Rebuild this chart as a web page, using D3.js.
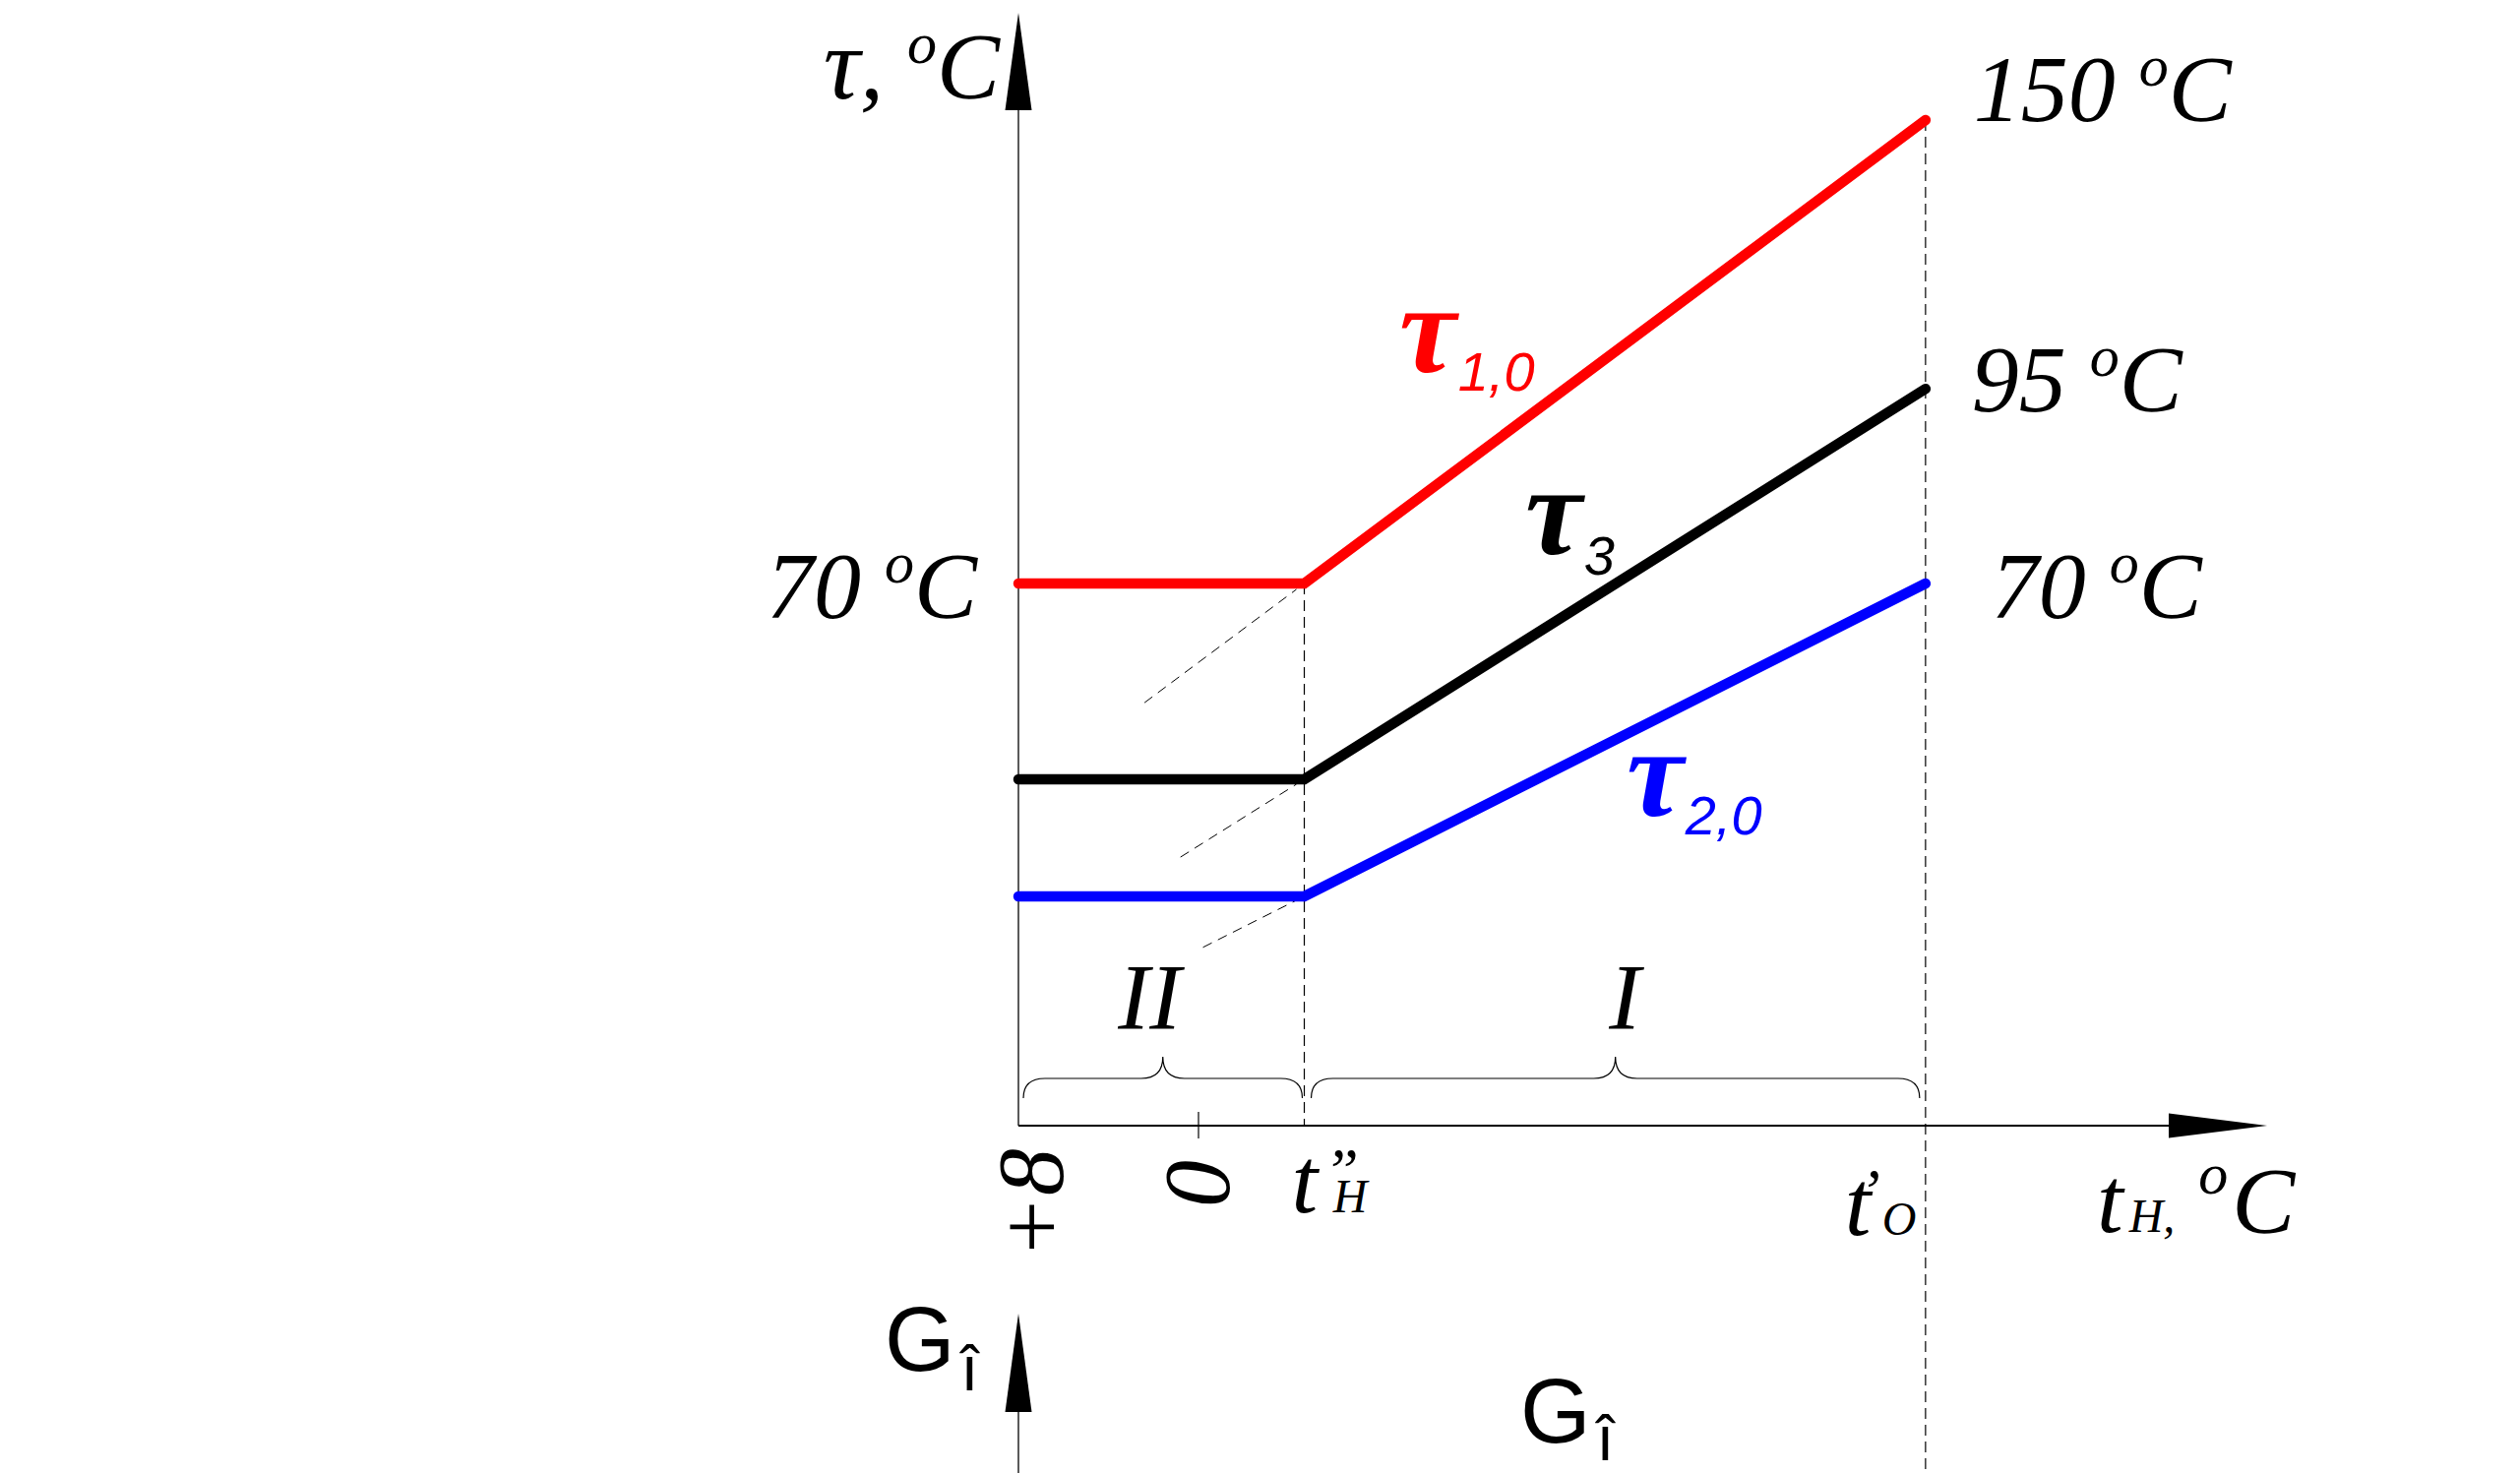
<!DOCTYPE html>
<html>
<head>
<meta charset="utf-8">
<script src="https://cdn.jsdelivr.net/npm/d3@7"></script>
<style>
  html, body { margin: 0; padding: 0; background: #fff; overflow: hidden; }
  svg { display: block; }
</style>
</head>
<body>
<svg id="chart" width="2561" height="1497"></svg>
<script>
// ---------- data ----------
// outdoor temperature t_H at the three knots: +8, t''_H, t'_O
const xKnots = [8, -4.7, -32.3];
// curve values (schematic units on the tau scale)
const tau10 = [70, 70, 150];
const tau3  = [36.2, 36.2, 103.6];
const tau20 = [16.0, 16.0, 70];
// where the thin dashed extrapolation of each sloped branch ends (t_H)
const extendTo = [2.4, 0.8, -0.2];
const seriesNames = ["1,0", "3", "2,0"];
const endLabels = ["150", "95", "70"];
const leftLabel = "70";
const zoneLabels = ["II", "I"];
const xTickValues = [8, 0];
const xTickLabels = ["+8", "0"];

// ---------- styles ----------
const colors = ["#ff0000", "#000000", "#0000ff"];
const SERIF = "'Liberation Serif','Times New Roman',serif";
const SANS = "'Liberation Sans',Arial,sans-serif";

const svg = d3.select("#chart");

const x = d3.scaleLinear().domain([8, 0]).range([1035, 1218]);
const y = d3.scaleLinear().domain([70, 150]).range([593, 122]);
const axisY = 1144;
const x0 = x(xKnots[0]), xH = x(xKnots[1]), xO = x(xKnots[2]);

// ---------- axes ----------
const ax = svg.append("g").attr("stroke", "#000");
ax.append("line").attr("x1", x0).attr("x2", x0).attr("y1", axisY).attr("y2", 60).attr("stroke-width", 1.3);
ax.append("line").attr("x1", x0).attr("x2", 2260).attr("y1", axisY).attr("y2", axisY).attr("stroke-width", 1.8);
svg.append("path").attr("d", `M${x0},13 L${x0 - 13.5},112 L${x0 + 13.5},112 Z`).attr("fill", "#000");
svg.append("path").attr("d", `M2304,${axisY} L2204,${axisY - 12.5} L2204,${axisY + 12.5} Z`).attr("fill", "#000");
// tick at 0
ax.append("line").attr("x1", x(0)).attr("x2", x(0)).attr("y1", axisY - 14).attr("y2", axisY + 13).attr("stroke-width", 1.2);

// lower axis (G)
ax.append("line").attr("x1", x0).attr("x2", x0).attr("y1", 1400).attr("y2", 1497).attr("stroke-width", 1.3);
svg.append("path").attr("d", `M${x0},1335 L${x0 - 13.5},1435 L${x0 + 13.5},1435 Z`).attr("fill", "#000");

// ---------- dashed verticals ----------
svg.append("line").attr("x1", xH).attr("x2", xH).attr("y1", y(tau10[1])).attr("y2", axisY)
  .attr("stroke", "#000").attr("stroke-width", 1.2).attr("stroke-dasharray", "11,6");
svg.append("line").attr("x1", xO).attr("x2", xO).attr("y1", y(tau10[2])).attr("y2", 1497)
  .attr("stroke", "#000").attr("stroke-width", 1.2).attr("stroke-dasharray", "11,6");

// ---------- dashed extrapolations ----------
const seriesVals = [tau10, tau3, tau20];
seriesVals.forEach((vals, i) => {
  const slope = d3.scaleLinear().domain([xKnots[1], xKnots[2]]).range([vals[1], vals[2]]);
  svg.append("line")
    .attr("x1", x(extendTo[i])).attr("y1", y(slope(extendTo[i])))
    .attr("x2", x(xKnots[1]) - 8).attr("y2", y(slope(xKnots[1] + 8 / 22.875)))
    .attr("stroke", "#000").attr("stroke-width", 1).attr("stroke-dasharray", "10,7");
});

// ---------- curves ----------
const line = d3.line().x((d, i) => x(xKnots[i])).y(d => y(d));
seriesVals.forEach((vals, i) => {
  svg.append("path").attr("d", line(vals)).attr("fill", "none")
    .attr("stroke", colors[i]).attr("stroke-width", 10.5)
    .attr("stroke-linecap", "round").attr("stroke-linejoin", "miter");
});

// ---------- braces ----------
function brace(a, b, yb, peak, endY) {
  const m = (a + b) / 2, r = 22;
  const p = d3.path();
  p.moveTo(a, endY);
  p.quadraticCurveTo(a, yb, a + r, yb);
  p.lineTo(m - r, yb);
  p.quadraticCurveTo(m, yb, m, peak);
  p.quadraticCurveTo(m, yb, m + r, yb);
  p.lineTo(b - r, yb);
  p.quadraticCurveTo(b, yb, b, endY);
  return p.toString();
}
svg.append("path").attr("d", brace(x0 + 5, xH - 2, 1096, 1074, 1116))
  .attr("fill", "none").attr("stroke", "#000").attr("stroke-width", 1.2);
svg.append("path").attr("d", brace(xH + 7, xO - 6, 1096, 1074, 1116))
  .attr("fill", "none").attr("stroke", "#000").attr("stroke-width", 1.2);

// ---------- text helpers ----------
function degLabel(tx, ty, num, anchor) {
  const t = svg.append("text").attr("x", tx).attr("y", ty)
    .attr("font-family", SERIF).attr("font-style", "italic").attr("font-size", 96)
    .attr("text-anchor", anchor || "start").attr("fill", "#000");
  t.append("tspan").text(num + " ");
  t.append("tspan").attr("font-size", 60).attr("dy", -36).text("o");
  t.append("tspan").attr("dy", 36).text("C");
  return t;
}

// axis title tau, oC
(function () {
  const t = svg.append("text").attr("x", 1016).attr("y", 100)
    .attr("font-family", SERIF).attr("font-style", "italic").attr("font-size", 96)
    .attr("text-anchor", "end");
  t.append("tspan").attr("font-size", 104).text("τ");
  t.append("tspan").text(", ");
  t.append("tspan").attr("font-size", 60).attr("dy", -36).text("o");
  t.append("tspan").attr("dy", 36).text("C");
})();

// end labels
const endOffsets = [[49, 1], [47, 23], [67, 35]];
seriesVals.forEach((vals, i) => {
  degLabel(xO + endOffsets[i][0], y(vals[2]) + endOffsets[i][1], endLabels[i]);
});
degLabel(993, y(tau10[0]) + 35, leftLabel, "end");

// curve name labels
const nameLabelPos = [[1422, 378, 19], [1550, 563, 21], [1653, 829, 19]];
seriesNames.forEach((s, i) => {
  const t = svg.append("text").attr("x", nameLabelPos[i][0]).attr("y", nameLabelPos[i][1]).attr("fill", colors[i]);
  t.append("tspan").attr("font-family", SERIF).attr("font-style", "italic").attr("font-weight", "bold")
    .attr("font-size", 130).text("τ");
  t.append("tspan").attr("font-family", SANS).attr("font-style", "italic")
    .attr("font-size", 56).attr("dx", 2).attr("dy", nameLabelPos[i][2]).text(s);
});

// zone labels
[[ (x0 + xH) / 2 - 12, zoneLabels[0]], [(xH + xO) / 2 + 10, zoneLabels[1]]].forEach(([cx, lab]) => {
  svg.append("text").attr("x", cx).attr("y", 1046).attr("text-anchor", "middle")
    .attr("font-family", SERIF).attr("font-style", "italic").attr("font-size", 96).text(lab);
});

// rotated tick labels
const tickBaseOffset = [45, 31];
xTickValues.forEach((v, i) => {
  const bx = x(v) + tickBaseOffset[i], by = i === 0 ? 1280 : 1227;
  svg.append("text").attr("transform", `translate(${bx},${by}) rotate(-90)`)
    .attr("font-family", SERIF).attr("font-style", "italic").attr("font-size", 96).text(xTickLabels[i]);
});

// flowing labels: one text chunk, tspans shifted relatively
function flow(family, tx, ty, parts) {
  const t = svg.append("text").attr("x", tx).attr("y", ty).attr("font-family", family);
  if (family === SERIF) t.attr("font-style", "italic");
  parts.forEach(p => t.append("tspan").attr("font-size", p[0]).attr("dx", p[1]).attr("dy", p[2]).text(p[3]));
  return t;
}
// t''_H
flow(SERIF, xH - 13, 1232, [[96, 0, 0, "t"], [64, 6, -21, "”"], [48, -26, 21, "H"]]);
// t'_O
flow(SERIF, xO - 82, 1255, [[96, 0, 0, "t"], [64, -12, -23, "’"], [48, 2, 23, "O"]]);
// t_H, oC
flow(SERIF, 2131, 1252, [[96, 0, 0, "t"], [48, 6, 0, "H,"], [60, 24, -39, "o"], [96, 4, 40, "C"]]);
// G labels
flow(SANS, 899, 1393, [[92, 0, 0, "G"], [64, 6, 20, "î"]]);
flow(SANS, 1545, 1466, [[92, 0, 0, "G"], [64, 6, 18, "î"]]);
</script>
</body>
</html>
